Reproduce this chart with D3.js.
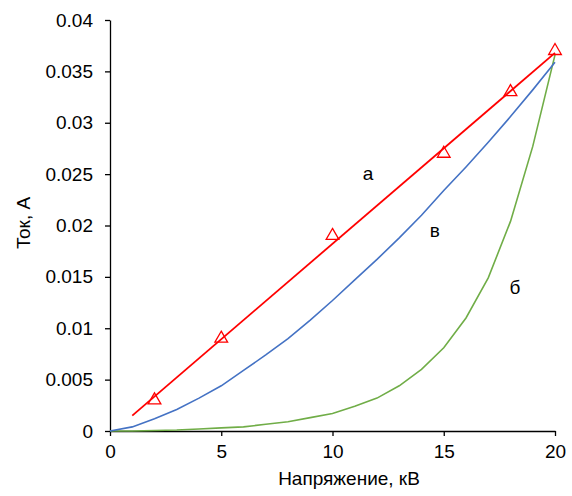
<!DOCTYPE html>
<html>
<head>
<meta charset="utf-8">
<script src="https://cdn.jsdelivr.net/npm/d3@7"></script>
<style>
  body { margin: 0; background: #fff; }
  svg { display: block; font-family: "Liberation Sans", Arial, sans-serif; }
</style>
</head>
<body>
<svg id="chart" width="572" height="496"></svg>
<script>
// Data
const voltage = [0, 1, 2, 3, 4, 5, 6, 7, 8, 9, 10, 11, 12, 13, 14, 15, 16, 17, 18, 19, 20]
const currentB = [0, 0.0004, 0.0012, 0.0021, 0.0032, 0.0044, 0.0059, 0.0074, 0.0090, 0.0108, 0.0127,
    0.0147, 0.0167, 0.0188, 0.0210, 0.0234, 0.0257, 0.0281, 0.0306, 0.0332, 0.0359]
const currentG = [0, 0, 0.00005, 0.0001, 0.0002, 0.0003, 0.0004, 0.00065, 0.0009, 0.0013, 0.0017,
    0.0024, 0.0032, 0.0044, 0.006, 0.0081, 0.011, 0.0149, 0.0204, 0.0277, 0.0366]
const markerX = [2, 5, 10, 15, 18, 20]
const markerY = [0.003, 0.009, 0.019, 0.027, 0.033, 0.037]
const trendX = [1, 20]
const trendY = [0.0015, 0.0368]
const xTicks = [0, 5, 10, 15, 20]
const yTicks = [0, 0.005, 0.01, 0.015, 0.02, 0.025, 0.03, 0.035, 0.04]
const yTickLabels = ["0", "0.005", "0.01", "0.015", "0.02", "0.025", "0.03", "0.035", "0.04"]
const curveLabels = [
    {text: "а", x: 11.6, y: 0.0251},
    {text: "в", x: 14.6, y: 0.0195},
    {text: "б", x: 18.2, y: 0.0140}
]

const svg = d3.select("#chart")
const fontSize = 19

const x = d3.scaleLinear().domain([0, 20]).range([110, 555])
const y = d3.scaleLinear().domain([0, 0.04]).range([431, 20])

// axes
const xAxis = d3.axisBottom(x)
    .tickValues(xTicks)
    .tickSize(5)
    .tickSizeOuter(0)
    .tickPadding(9)
    .tickFormat(d => String(d))
const yAxis = d3.axisLeft(y)
    .tickValues(yTicks)
    .tickSize(5)
    .tickSizeOuter(0)
    .tickPadding(12)
    .tickFormat((d, i) => yTickLabels[i])

function styleAxis(g){
    g.select(".domain").attr("stroke", "#000").attr("stroke-width", 1.3)
    g.selectAll(".tick line").attr("stroke", "#000").attr("stroke-width", 1.3)
    g.selectAll(".tick text")
        .attr("fill", "#000")
        .style("font-size", fontSize + "px")
        .style("font-family", "'Liberation Sans', Arial, sans-serif")
}

svg.append("g")
    .attr("transform", "translate(0," + y(0) + ")")
    .call(xAxis)
    .call(styleAxis)
svg.append("g")
    .attr("transform", "translate(" + x(0) + ",0)")
    .call(yAxis)
    .call(styleAxis)

// curves
const line = d3.line()
    .x(d => x(d[0]))
    .y(d => y(d[1]))

svg.append("path")
    .datum(voltage.map((v, i) => [v, currentG[i]]))
    .attr("d", line)
    .attr("fill", "none")
    .attr("stroke", "#70AD47")
    .attr("stroke-width", 1.6)

svg.append("path")
    .datum(voltage.map((v, i) => [v, currentB[i]]))
    .attr("d", line)
    .attr("fill", "none")
    .attr("stroke", "#4472C4")
    .attr("stroke-width", 1.6)

svg.append("path")
    .datum(trendX.map((v, i) => [v, trendY[i]]))
    .attr("d", line)
    .attr("fill", "none")
    .attr("stroke", "#FF0000")
    .attr("stroke-width", 1.8)

// triangle markers
const tri = d3.symbol().type(d3.symbolTriangle).size(70)
svg.append("g")
    .selectAll("path")
    .data(markerX.map((v, i) => [v, markerY[i]]))
    .join("path")
    .attr("d", tri)
    .attr("transform", d => "translate(" + x(d[0]) + "," + y(d[1]) + ")")
    .attr("fill", "none")
    .attr("stroke", "#FF0000")
    .attr("stroke-width", 1.3)

// curve labels
svg.append("g")
    .selectAll("text")
    .data(curveLabels)
    .join("text")
    .attr("x", d => x(d.x))
    .attr("y", d => y(d.y))
    .attr("text-anchor", "middle")
    .attr("dy", "0.35em")
    .style("font-size", fontSize + "px")
    .text(d => d.text)

// axis titles
svg.append("text")
    .attr("x", 349)
    .attr("y", 485)
    .attr("text-anchor", "middle")
    .style("font-size", fontSize + "px")
    .text("Напряжение, кВ")

svg.append("text")
    .attr("transform", "translate(30,223) rotate(-90)")
    .attr("text-anchor", "middle")
    .style("font-size", fontSize + "px")
    .text("Ток, А")
</script>
</body>
</html>
